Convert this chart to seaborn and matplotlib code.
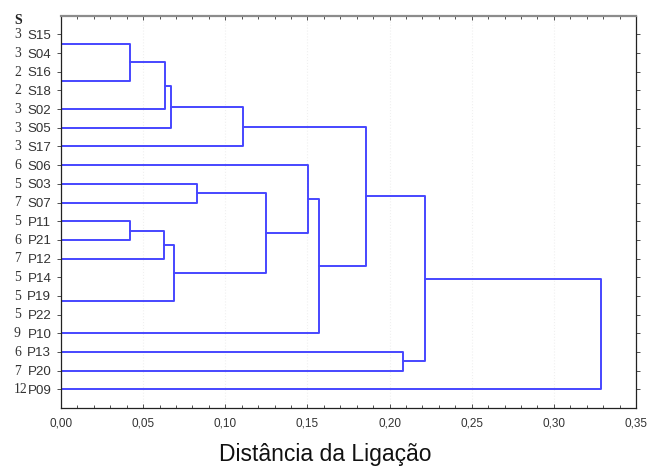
import pandas as pd
import seaborn as sns
import matplotlib.pyplot as plt
from matplotlib.ticker import MultipleLocator, FuncFormatter
from matplotlib.transforms import blended_transform_factory

# leaves, top to bottom, with the count shown left of each code
leaves = ['S15', 'S04', 'S16', 'S18', 'S02', 'S05', 'S17', 'S06', 'S03', 'S07',
          'P11', 'P21', 'P12', 'P14', 'P19', 'P22', 'P10', 'P13', 'P20', 'P09']
counts = [3, 3, 2, 2, 3, 3, 3, 6, 5, 7, 5, 6, 7, 5, 5, 5, 9, 6, 7, 12]

# merges: (left child, right child, linkage distance); 'mN' refers to merge N
merge_left = ['S15', 'S16', 'm0', 'm2', 'm3', 'm4', 'S03', 'P11', 'm7', 'P14',
              'm9', 'm8', 'm6', 'S06', 'm13', 'm5', 'P13', 'm15', 'm17']
merge_right = ['S04', 'S18', 'm1', 'S02', 'S05', 'S17', 'S07', 'P21', 'P12', 'P19',
               'P22', 'm10', 'm11', 'm12', 'P10', 'm14', 'P20', 'm16', 'P09']
merge_dist = [0.0, 0.0, 0.042, 0.063, 0.067, 0.111, 0.083, 0.042, 0.0627, 0.0,
              0.0, 0.069, 0.125, 0.1505, 0.157, 0.1857, 0.208, 0.2215, 0.3286]

# node positions: y = row index (leaves), x = distance
pos = {name: (0.0, i) for i, name in enumerate(leaves)}
rows = []
for k, (a, b, d) in enumerate(zip(merge_left, merge_right, merge_dist)):
    xa, ya = pos[a]
    xb, yb = pos[b]
    for x, y in [(xa, ya), (d, ya), (d, yb), (xb, yb)]:
        rows.append({'seg': k, 'x': x, 'y': y})
    pos['m%d' % k] = (d, (ya + yb) / 2)
segs = pd.DataFrame(rows)

sns.set_style('ticks')
plt.rcParams['font.family'] = ['Liberation Sans', 'DejaVu Sans']

fig = plt.figure(figsize=(6.5, 4.7), dpi=100)
ax = fig.add_axes([61 / 650, 1 - 408 / 470, 575 / 650, (408 - 15.7) / 470])

sns.lineplot(data=segs, x='x', y='y', units='seg', estimator=None, sort=False,
             color='#4646ff', linewidth=1.4, ax=ax, legend=False)

ax.set_xlim(0, 0.35)
ax.set_ylim(len(leaves), -1)
ax.xaxis.set_major_locator(MultipleLocator(0.05))
ax.xaxis.set_minor_locator(MultipleLocator(0.01))
ax.xaxis.set_major_formatter(FuncFormatter(lambda v, p: ('%.2f' % v).replace('.', ',')))
ax.set_yticks(range(len(leaves)))
ax.set_yticklabels(leaves)
ax.set_xlabel('')
ax.set_ylabel('')

ax.tick_params(axis='x', which='both', direction='in', top=True, labelsize=8.5,
               pad=7, colors='#333333', length=3, width=0.6)
ax.tick_params(axis='x', which='minor', length=2)
ax.tick_params(axis='y', direction='out', right=True, labelsize=9.6, pad=4,
               length=3, width=0.6, colors='#333333')
ax.grid(axis='x', color='#f0f0f0', linestyle=':', linewidth=0.8)

for side in ['left', 'bottom', 'right']:
    ax.spines[side].set_color('#222222')
    ax.spines[side].set_linewidth(0.9)
ax.spines['top'].set_color('#8c8c8c')
ax.spines['top'].set_linewidth(1.6)

# count column and header
tr = blended_transform_factory(fig.transFigure, ax.transData)
for i, c in enumerate(counts):
    ax.text(14 / 650, i + 0.02, str(c), transform=tr, ha='left', va='center',
            fontsize=9.8, family='Liberation Serif', color='#333333')
ax.text(14 / 650, -0.75, 'S', transform=tr, ha='left', va='center',
        fontsize=10, family='Liberation Serif', fontweight='bold', color='#222222')

fig.text(325 / 650, 1 - 455 / 470, 'Distância da Ligação', ha='center', va='center',
         fontsize=16.5, color='#111111')

fig.savefig('out.png', dpi=100)
